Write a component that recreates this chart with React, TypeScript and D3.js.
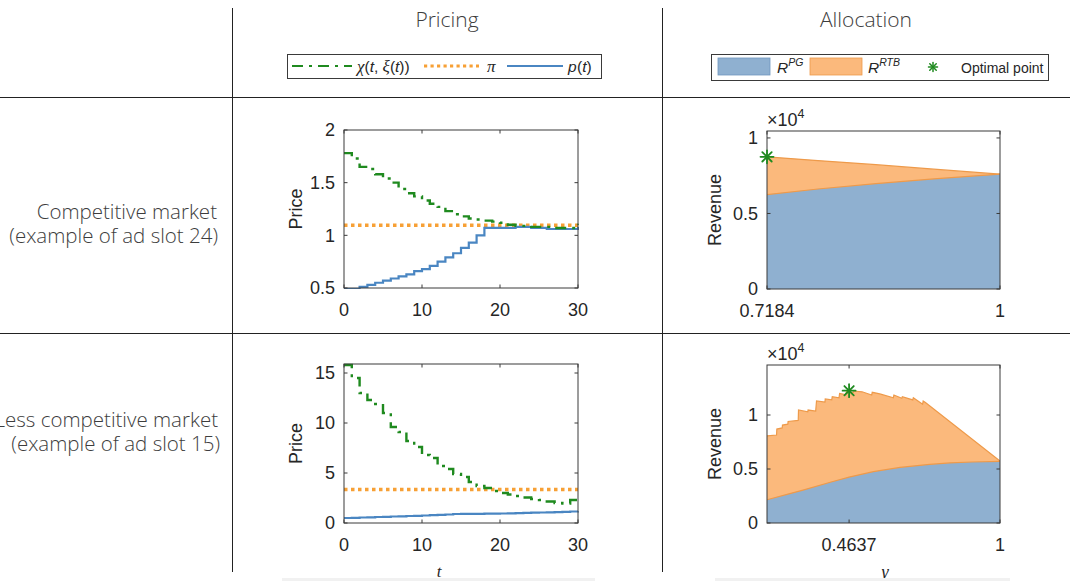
import React from 'react';
import * as d3 from 'd3';

// ---------------- Data ----------------
const T = [0,1,2,3,4,5,6,7,8,9,10,11,12,13,14,15,16,17,18,19,20,21,22,23,24,25,26,27,28,29,30];

// Competitive market (ad slot 24)
const chiComp = [1.78,1.73,1.65,1.63,1.58,1.54,1.50,1.44,1.40,1.37,1.33,1.30,1.27,1.23,1.20,1.18,1.16,1.15,1.14,1.13,1.12,1.10,1.09,1.09,1.08,1.08,1.08,1.07,1.07,1.07,1.11];
const pComp = [0.49,0.49,0.51,0.53,0.55,0.57,0.59,0.61,0.63,0.66,0.68,0.71,0.75,0.79,0.83,0.88,0.93,1.00,1.07,1.07,1.07,1.07,1.08,1.08,1.07,1.07,1.06,1.06,1.06,1.06,1.08];
const piComp = 1.095;

// Less competitive market (ad slot 15)
const chiLess = [15.8,14.5,13.0,12.3,11.9,11.0,9.6,9.1,8.2,7.6,6.8,6.5,5.7,5.4,4.9,4.6,4.1,3.7,3.5,3.2,3.0,2.85,2.7,2.55,2.4,2.3,2.15,2.0,1.95,2.3,2.8];
const pLess = [0.50,0.52,0.55,0.57,0.60,0.62,0.65,0.67,0.70,0.72,0.75,0.78,0.81,0.85,0.90,0.91,0.91,0.92,0.93,0.94,0.95,0.97,0.99,1.01,1.03,1.05,1.07,1.09,1.12,1.15,1.18];
const piLess = 3.35;

// Allocation, competitive (gamma, revenue)
const gammaCompPG = [0.7184,0.78,0.85,0.92,1.0];
const revCompPG = [6250,6620,6970,7290,7600];
const gammaCompTotal = [0.7184,0.78,0.85,0.92,1.0];
const revCompTotal = [8750,8500,8230,7930,7600];
const optComp = { gamma: 0.7184, rev: 8750 };

// Allocation, less competitive (gamma, revenue)
const gammaLessPG = [0.172,0.25,0.30,0.40,0.4637,0.55,0.645,0.75,0.822,0.90,1.0];
const revLessPG = [2150,2700,3050,3800,4250,4750,5150,5420,5560,5650,5700];
const gammaLessTotal = [0.172,0.206,0.207,0.226,0.227,0.246,0.247,0.283,0.284,0.317,0.318,0.345,0.348,0.378,0.379,0.402,0.404,0.428,0.430,0.450,0.455,0.479,0.481,0.510,0.544,0.546,0.573,0.621,0.623,0.651,0.653,0.690,0.692,0.725,0.727,0.735,1.0];
const revLessTotal = [8060,8150,8700,8800,9070,9150,9400,9500,10460,10300,10460,10370,11300,11200,11480,11400,11700,11600,12000,11900,12160,12100,12220,12150,11850,12100,11950,11600,11850,11550,11700,11400,11600,11000,11300,11150,5740];
const optLess = { gamma: 0.4637, rev: 12250 };

// ---------------- Styles ----------------
const AX_FONT = "'Liberation Sans', Arial, Helvetica, sans-serif";
const HEAD_FONT = "'Open Sans', 'Noto Sans', sans-serif";
const GREEK_FONT = "'Liberation Serif', 'DejaVu Serif', serif";
const TXT = '#262626';
const GREEN = '#1f8a1f';
const ORANGE_DOT = '#f7a035';
const BLUE_LINE = '#4a86c2';
const BLUE_FILL = '#8fb0d0';
const ORANGE_FILL = '#fbb97c';
const ORANGE_EDGE = '#ee9a4a';
const TICK_FS = 18;

type Box = { x0: number; x1: number; y0: number; y1: number };

function Star({ cx, cy, r, color, w }: { cx: number; cy: number; r: number; color: string; w: number }) {
  const d = r * 0.72;
  return (
    <g stroke={color} strokeWidth={w} strokeLinecap="round">
      <line x1={cx - r} y1={cy} x2={cx + r} y2={cy} />
      <line x1={cx} y1={cy - r} x2={cx} y2={cy + r} />
      <line x1={cx - d} y1={cy - d} x2={cx + d} y2={cy + d} />
      <line x1={cx - d} y1={cy + d} x2={cx + d} y2={cy - d} />
    </g>
  );
}

function Frame({ box, xScale, yScale, xTicks, xLabels, yTicks, yLabels }: any) {
  const tl = 3.5;
  return (
    <g>
      <rect x={box.x0} y={box.y0} width={box.x1 - box.x0} height={box.y1 - box.y0} fill="none" stroke="#3a3a3a" strokeWidth={1} />
      {xTicks.map((v: number, i: number) => {
        const x = xScale(v);
        return (
          <g key={'x' + i}>
            <line x1={x} x2={x} y1={box.y1} y2={box.y1 - tl} stroke="#3a3a3a" />
            <line x1={x} x2={x} y1={box.y0} y2={box.y0 + tl} stroke="#3a3a3a" />
            <text x={x} y={box.y1 + 28} textAnchor="middle" fontFamily={AX_FONT} fontSize={TICK_FS} fill={TXT}>{xLabels[i]}</text>
          </g>
        );
      })}
      {yTicks.map((v: number, i: number) => {
        const y = yScale(v);
        return (
          <g key={'y' + i}>
            <line x1={box.x0} x2={box.x0 + tl} y1={y} y2={y} stroke="#3a3a3a" />
            <line x1={box.x1} x2={box.x1 - tl} y1={y} y2={y} stroke="#3a3a3a" />
            <text x={box.x0 - 9} y={y} dy="0.36em" textAnchor="end" fontFamily={AX_FONT} fontSize={TICK_FS} fill={TXT}>{yLabels[i]}</text>
          </g>
        );
      })}
    </g>
  );
}

function PricingPanel({ id, box, yDomain, yTicks, yLabels, chi, p, pi }: any) {
  const x = d3.scaleLinear().domain([0, 30]).range([box.x0, box.x1]);
  const y = d3.scaleLinear().domain(yDomain).range([box.y1, box.y0]);
  const stairs = d3.line<number>().x((_, i) => x(T[i])).y(d => y(d)).curve(d3.curveStepAfter);
  const cy = (box.y0 + box.y1) / 2;
  return (
    <g>
      <defs>
        <clipPath id={id}><rect x={box.x0 - 1} y={box.y0 - 1} width={box.x1 - box.x0 + 2} height={box.y1 - box.y0 + 2} /></clipPath>
      </defs>
      <g clipPath={`url(#${id})`}>
        <line x1={x(0)} x2={x(30)} y1={y(pi)} y2={y(pi)} stroke={ORANGE_DOT} strokeWidth={3.5} strokeDasharray="3.5,3.5" />
        <path d={stairs(p) || ''} fill="none" stroke={BLUE_LINE} strokeWidth={2.2} />
        <path d={stairs(chi) || ''} fill="none" stroke={GREEN} strokeWidth={2.4} strokeDasharray="11,6,3,6" />
      </g>
      <Frame box={box} xScale={x} yScale={y} xTicks={[0, 10, 20, 30]} xLabels={['0', '10', '20', '30']} yTicks={yTicks} yLabels={yLabels} />
      <text transform={`translate(302,${cy}) rotate(-90)`} textAnchor="middle" fontFamily={AX_FONT} fontSize={TICK_FS} fill={TXT}>Price</text>
    </g>
  );
}

function AllocationPanel({ id, box, xDomain, xTicks, xLabels, yDomain, gPG, rPG, gTot, rTot, opt }: any) {
  const x = d3.scaleLinear().domain(xDomain).range([box.x0, box.x1]);
  const y = d3.scaleLinear().domain(yDomain).range([box.y1, box.y0]);
  const totPts = gTot.map((g: number, i: number) => [g, rTot[i]]);
  const pgPts = gPG.map((g: number, i: number) => [g, rPG[i]]);
  const area = d3.area<number[]>().x(d => x(d[0])).y0(y(0)).y1(d => y(d[1]));
  const line = d3.line<number[]>().x(d => x(d[0])).y(d => y(d[1]));
  const cy = (box.y0 + box.y1) / 2;
  return (
    <g>
      <defs>
        <clipPath id={id}><rect x={box.x0} y={box.y0} width={box.x1 - box.x0} height={box.y1 - box.y0} /></clipPath>
      </defs>
      <g clipPath={`url(#${id})`}>
        <path d={area(totPts) || ''} fill={ORANGE_FILL} />
        <path d={line(totPts) || ''} fill="none" stroke={ORANGE_EDGE} strokeWidth={1.2} />
        <path d={area(pgPts) || ''} fill={BLUE_FILL} />
        <path d={line(pgPts) || ''} fill="none" stroke={ORANGE_EDGE} strokeWidth={1.2} />
      </g>
      <Frame box={box} xScale={x} yScale={y} xTicks={xTicks} xLabels={xLabels} yTicks={[0, 5000, 10000]} yLabels={['0', '0.5', '1']} />
      <Star cx={x(opt.gamma)} cy={y(opt.rev)} r={6.5} color={GREEN} w={1.8} />
      <text x={box.x0} y={box.y0 - 5} fontFamily={AX_FONT} fontSize={18} fill={TXT}>
        ×10<tspan dy={-8} fontSize={12.5}>4</tspan>
      </text>
      <text transform={`translate(721,${cy}) rotate(-90)`} textAnchor="middle" fontFamily={AX_FONT} fontSize={TICK_FS} fill={TXT}>Revenue</text>
    </g>
  );
}

export default function App() {
  const boxTL: Box = { x0: 344, x1: 578, y0: 130, y1: 288 };
  const boxBL: Box = { x0: 344, x1: 578, y0: 364, y1: 523 };
  const boxTR: Box = { x0: 767, x1: 1000, y0: 131, y1: 289 };
  const boxBR: Box = { x0: 767, x1: 1000, y0: 365, y1: 523 };
  const headStyle = { fontFamily: HEAD_FONT, fontWeight: 300, fill: '#3d3d3d' } as any;
  return (
    <svg width={1070} height={581} style={{ position: 'absolute', left: 0, top: 0, background: '#fff' }}>
      <rect x={0} y={0} width={1070} height={581} fill="#fff" />
      {/* table grid */}
      <line x1={232.5} x2={232.5} y1={8} y2={572} stroke="#222" strokeWidth={1} />
      <line x1={662.5} x2={662.5} y1={8} y2={572} stroke="#222" strokeWidth={1} />
      <line x1={0} x2={1070} y1={97.5} y2={97.5} stroke="#222" strokeWidth={1} />
      <line x1={0} x2={1070} y1={333.5} y2={333.5} stroke="#222" strokeWidth={1} />

      {/* headers */}
      <text x={447} y={27} textAnchor="middle" fontSize={21} {...headStyle}>Pricing</text>
      <text x={866} y={27} textAnchor="middle" fontSize={21} {...headStyle}>Allocation</text>

      {/* row labels */}
      <text x={217} y={219} textAnchor="end" fontSize={20.5} {...headStyle}>Competitive market</text>
      <text x={218} y={243} textAnchor="end" fontSize={20.5} {...headStyle}>(example of ad slot 24)</text>
      <text x={218} y={427} textAnchor="end" fontSize={20.5} {...headStyle}>Less competitive market</text>
      <text x={220} y={451} textAnchor="end" fontSize={20.5} {...headStyle}>(example of ad slot 15)</text>

      {/* legend 1 */}
      <g fontFamily={AX_FONT} fontSize={15.5} fill={TXT}>
        <rect x={287.5} y={54.5} width={314} height={24} fill="#fff" stroke="#3a3a3a" />
        <line x1={292} x2={352} y1={66} y2={66} stroke={GREEN} strokeWidth={2.2} strokeDasharray="11,6,3,6" />
        <text x={357} y={71.5}><tspan fontFamily={GREEK_FONT} fontStyle="italic" fontSize={17}>χ</tspan>(<tspan fontStyle="italic">t</tspan>, <tspan fontFamily={GREEK_FONT} fontStyle="italic" fontSize={17}>ξ</tspan>(<tspan fontStyle="italic">t</tspan>))</text>
        <line x1={424} x2={479} y1={66} y2={66} stroke={ORANGE_DOT} strokeWidth={3.2} strokeDasharray="3.2,3.3" />
        <text x={487} y={71.5} fontFamily={GREEK_FONT} fontStyle="italic" fontSize={17}>π</text>
        <line x1={507} x2={563} y1={66} y2={66} stroke={BLUE_LINE} strokeWidth={2} />
        <text x={568} y={71.5} fontStyle="italic">p</text>
        <text x={577} y={71.5}>(<tspan fontStyle="italic">t</tspan>)</text>
      </g>

      {/* legend 2 */}
      <g fontFamily={AX_FONT} fontSize={15.5} fill={TXT}>
        <rect x={711.5} y={54.5} width={337} height={26} fill="#fff" stroke="#3a3a3a" />
        <rect x={718} y={58} width={52} height={17} fill={BLUE_FILL} stroke="#6f97bf" strokeWidth={0.8} />
        <text x={777} y={73} fontStyle="italic">R<tspan dy={-7} fontSize={10.5}>PG</tspan></text>
        <rect x={810} y={58} width={52} height={17} fill={ORANGE_FILL} stroke={ORANGE_EDGE} strokeWidth={0.8} />
        <text x={868} y={73} fontStyle="italic">R<tspan dy={-7} fontSize={10.5}>RTB</tspan></text>
        <Star cx={933} cy={67} r={4.5} color={GREEN} w={1.5} />
        <text x={961} y={73} fontSize={14}>Optimal point</text>
      </g>

      <PricingPanel id="cTL" box={boxTL} yDomain={[0.5, 2]} yTicks={[0.5, 1, 1.5, 2]} yLabels={['0.5', '1', '1.5', '2']} chi={chiComp} p={pComp} pi={piComp} />
      <PricingPanel id="cBL" box={boxBL} yDomain={[0, 15.9]} yTicks={[0, 5, 10, 15]} yLabels={['0', '5', '10', '15']} chi={chiLess} p={pLess} pi={piLess} />

      <AllocationPanel id="cTR" box={boxTR} xDomain={[0.7184, 1]} xTicks={[0.7184, 1]} xLabels={['0.7184', '1']} yDomain={[0, 10460]}
        gPG={gammaCompPG} rPG={revCompPG} gTot={gammaCompTotal} rTot={revCompTotal} opt={optComp} />
      <AllocationPanel id="cBR" box={boxBR} xDomain={[0.172, 1]} xTicks={[0.4637, 1]} xLabels={['0.4637', '1']} yDomain={[0, 14630]}
        gPG={gammaLessPG} rPG={revLessPG} gTot={gammaLessTotal} rTot={revLessTotal} opt={optLess} />

      {/* x-axis labels at bottom */}
      <text x={439} y={577} textAnchor="middle" fontFamily={GREEK_FONT} fontStyle="italic" fontSize={17} fill={TXT}>t</text>
      <text x={885} y={578} textAnchor="middle" fontFamily={GREEK_FONT} fontStyle="italic" fontSize={18} fill={TXT}>γ</text>
      <rect x={282} y={578} width={313} height={3} fill="#f1f1f1" />
      <rect x={715} y={578} width={295} height={3} fill="#f1f1f1" />
    </svg>
  );
}
